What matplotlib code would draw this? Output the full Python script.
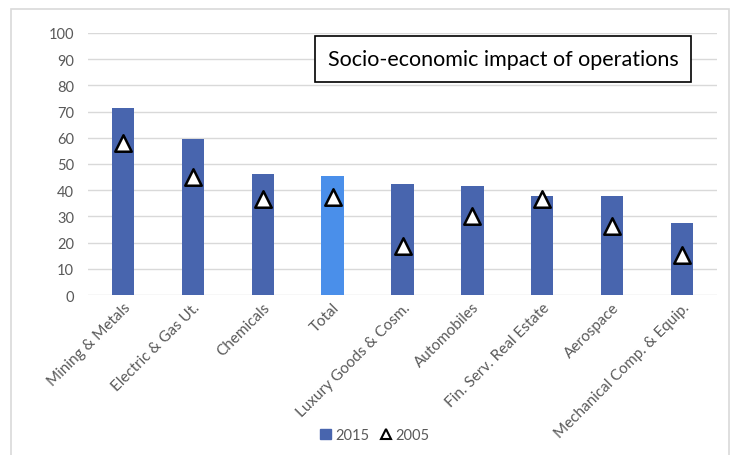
import numpy as np
import matplotlib
matplotlib.use('Agg')
import matplotlib.pyplot as plt
from matplotlib.patches import Rectangle
from matplotlib.lines import Line2D

plt.rcParams['font.family'] = ['Lato', 'DejaVu Sans']

# data
categories = ['Mining & Metals', 'Electric & Gas Ut.', 'Chemicals', 'Total',
              'Luxury Goods & Cosm.', 'Automobiles', 'Fin. Serv. Real Estate',
              'Aerospace', 'Mechanical Comp. & Equip.']
values_2015 = [71.2, 59.5, 46.0, 45.6, 42.4, 41.7, 37.6, 37.6, 27.5]
values_2005 = [58.2, 45.0, 36.8, 37.4, 18.6, 30.3, 36.5, 26.3, 15.2]

bar_col = '#4865AE'
total_col = '#4A8FEA'
grey_txt = '#595959'

fig = plt.figure(figsize=(7.32, 4.56), dpi=100)
ax = fig.add_axes([88 / 732, 1 - 296 / 456, 629 / 732, 262 / 456])

# outer chart border
fig.patches.append(Rectangle((11 / 732, -0.05), 718 / 732, 1.05 - 10 / 456,
                             transform=fig.transFigure, fill=False,
                             ec='#D9D9D9', lw=1.2))

x = np.arange(len(categories))
colors = [total_col if c == 'Total' else bar_col for c in categories]
ax.bar(x, values_2015, width=0.32, color=colors, zorder=2)
ax.scatter(x, values_2005, marker='^', s=140, facecolor='white',
           edgecolor='black', linewidth=1.8, zorder=3)

ax.set_xlim(-0.5, len(categories) - 0.5)
ax.set_ylim(0, 100)
ax.set_yticks(np.arange(0, 101, 10))
ax.yaxis.grid(True, color='#D9D9D9', lw=1, zorder=0)
ax.set_axisbelow(True)
for s in ax.spines.values():
    s.set_visible(False)
ax.tick_params(axis='both', length=0, colors=grey_txt, labelsize=10.5)
ax.tick_params(axis='y', pad=10)
ax.set_xticks(x)
ax.set_xticklabels(categories, rotation=45, ha='right', va='top',
                   rotation_mode='anchor', fontsize=11)

ax.text(0.66, 0.90, 'Socio-economic impact of operations', transform=ax.transAxes,
        ha='center', va='center', fontsize=15.5, color='black',
        bbox=dict(boxstyle='square,pad=0.6', fc='white', ec='black', lw=1.2),
        zorder=5)

handles = [Rectangle((0, 0), 1, 1, color=bar_col),
           Line2D([], [], marker='^', ls='none', markerfacecolor='white',
                  markeredgecolor='black', markeredgewidth=1.5, markersize=7)]
fig.legend(handles, ['2015', '2005'], loc='center', ncol=2,
           bbox_to_anchor=(375 / 732, 1 - 436 / 456), frameon=False,
           fontsize=10.5, handlelength=0.7, handletextpad=0.3,
           columnspacing=0.8, labelcolor=grey_txt)

fig.savefig('out.png', dpi=100)
